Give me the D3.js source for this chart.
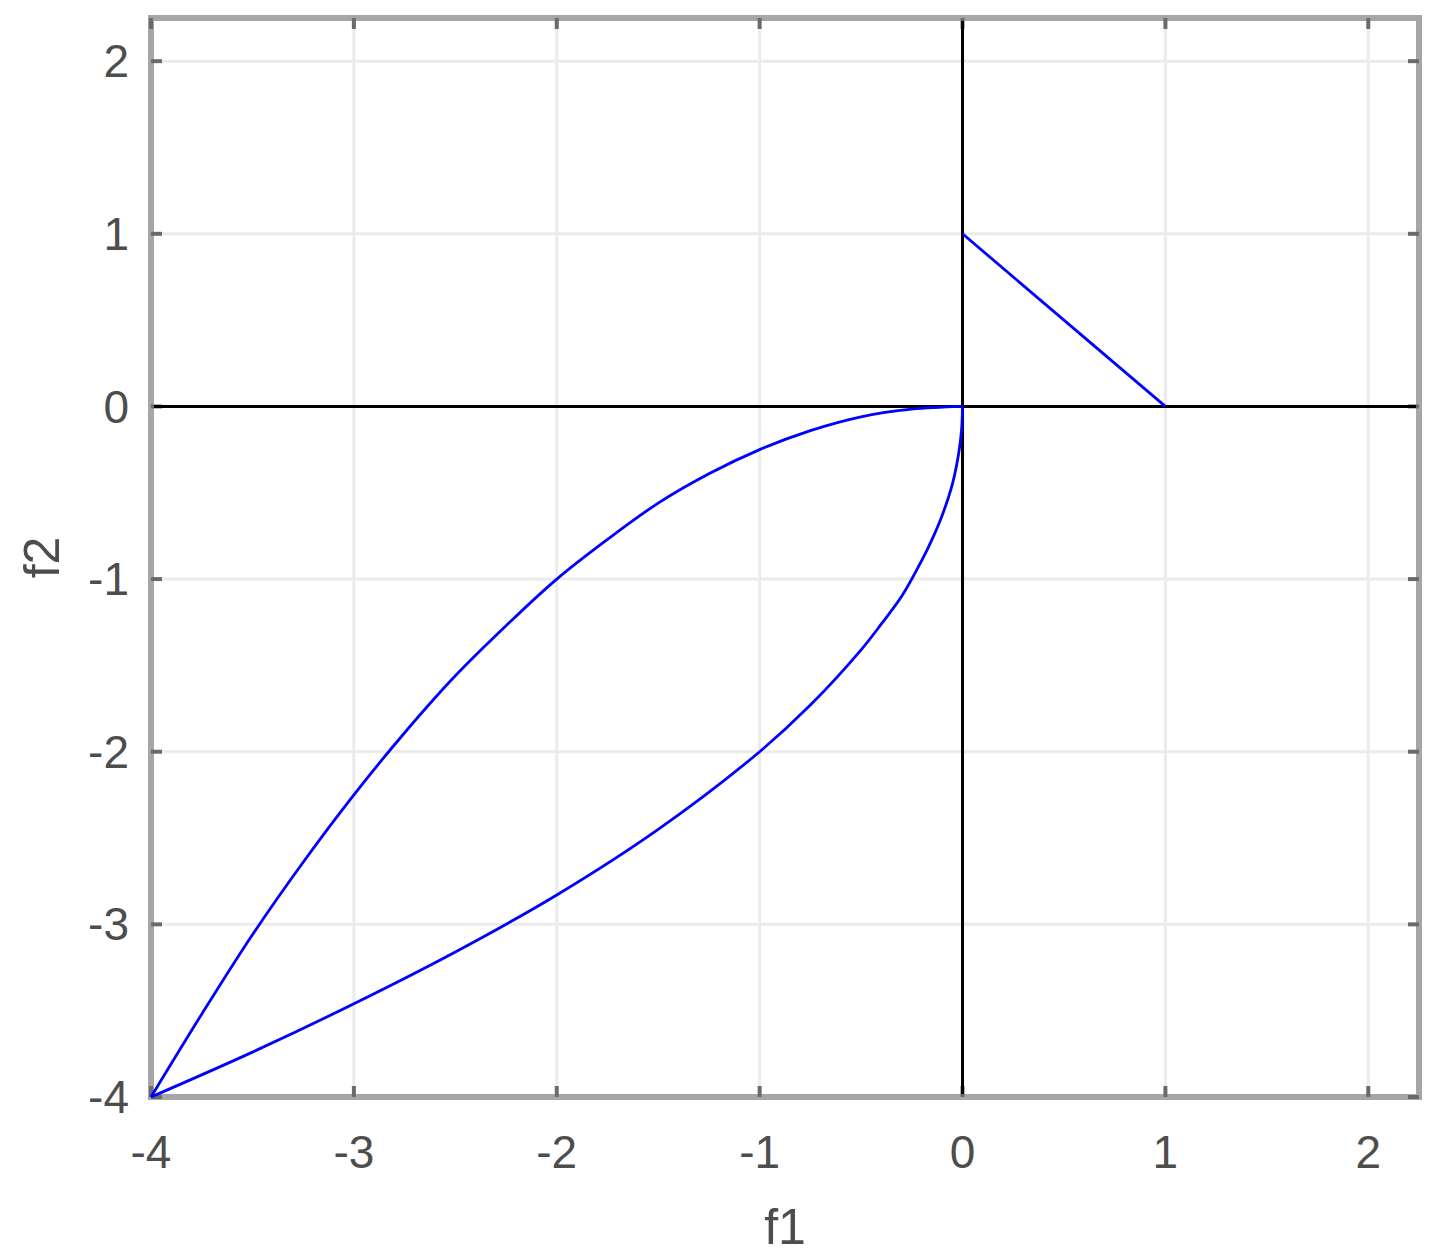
<!DOCTYPE html>
<html>
<head>
<meta charset="utf-8">
<script src="https://cdn.jsdelivr.net/npm/d3@7"></script>
<style>
  body { margin: 0; background: #fff; }
  svg text { font-family: "Liberation Sans", Arial, sans-serif; fill: #4d4d4d; }
</style>
</head>
<body>
<svg id="chart"></svg>
<script>
// Taille du graphique
const width = 1440, height = 1260;

// Données
const xTicks = [-4, -3, -2, -1, 0, 1, 2];
const yTicks = [-4, -3, -2, -1, 0, 1, 2];

// courbe supérieure (de (-4,-4) à (0,0))
const upperF1 = [-4, -3.75, -3.5, -3.25, -3, -2.75, -2.5, -2.25, -2, -1.75, -1.5, -1.25, -1, -0.75, -0.5, -0.25, 0];
const upperF2 = [-4, -3.52, -3.06, -2.64, -2.25, -1.89, -1.56, -1.27, -1, -0.77, -0.56, -0.39, -0.25, -0.14, -0.06, -0.016, 0];

// courbe inférieure
const lowerF1 = [-4, -3.5, -3, -2.5, -2, -1.5, -1, -0.75, -0.5, -0.4, -0.3, -0.2, -0.15, -0.1, -0.05, -0.02, -0.005, 0];
const lowerF2 = [-4, -3.74, -3.46, -3.16, -2.83, -2.45, -2, -1.73, -1.41, -1.26, -1.1, -0.89, -0.77, -0.63, -0.45, -0.28, -0.14, 0];

// segment en haut à droite
const segF1 = [0, 1];
const segF2 = [1, 0];

const svg = d3.select("#chart")
    .attr("width", width)
    .attr("height", height);

// Échelles
const x = d3.scaleLinear().domain([-4, 2.25]).range([151, 1419]);
const y = d3.scaleLinear().domain([-4, 2.25]).range([1097, 18]);

const [x0, x1] = x.range();
const [y0, y1] = y.range();

// Grille
svg.append("g").selectAll("line")
    .data(xTicks)
    .enter().append("line")
    .attr("x1", d => x(d)).attr("x2", d => x(d))
    .attr("y1", y1).attr("y2", y0)
    .attr("stroke", "#ebebeb").attr("stroke-width", 3);

svg.append("g").selectAll("line")
    .data(yTicks)
    .enter().append("line")
    .attr("y1", d => y(d)).attr("y2", d => y(d))
    .attr("x1", x0).attr("x2", x1)
    .attr("stroke", "#ebebeb").attr("stroke-width", 3);

// Courbes
const line = d3.line()
    .x(d => x(d[0]))
    .y(d => y(d[1]))
    .curve(d3.curveCatmullRom);

const series = [
    d3.zip(upperF1, upperF2),
    d3.zip(lowerF1, lowerF2),
    d3.zip(segF1, segF2)
];

// Cadre
svg.append("rect")
    .attr("x", x0).attr("y", y1)
    .attr("width", x1 - x0).attr("height", y0 - y1)
    .attr("fill", "none")
    .attr("stroke", "#a6a6a6")
    .attr("stroke-width", 6);

// Graduations (vers l'intérieur, sur les 4 côtés)
const tickLen = 11;
const tk = svg.append("g").attr("stroke", "#6a6a6a").attr("stroke-width", 4);
xTicks.forEach(d => {
    tk.append("line").attr("x1", x(d)).attr("x2", x(d)).attr("y1", y0).attr("y2", y0 - tickLen);
    tk.append("line").attr("x1", x(d)).attr("x2", x(d)).attr("y1", y1).attr("y2", y1 + tickLen);
});
yTicks.forEach(d => {
    tk.append("line").attr("y1", y(d)).attr("y2", y(d)).attr("x1", x0).attr("x2", x0 + tickLen);
    tk.append("line").attr("y1", y(d)).attr("y2", y(d)).attr("x1", x1).attr("x2", x1 - tickLen);
});

// Axes f1 = 0 et f2 = 0
svg.append("line")
    .attr("x1", x0 + 3).attr("x2", x1 - 3)
    .attr("y1", y(0)).attr("y2", y(0))
    .attr("stroke", "#000").attr("stroke-width", 3);
svg.append("line")
    .attr("x1", x(0)).attr("x2", x(0))
    .attr("y1", y1 + 3).attr("y2", y0 - 3)
    .attr("stroke", "#000").attr("stroke-width", 3);

svg.append("g").selectAll("path")
    .data(series)
    .enter().append("path")
    .attr("d", line)
    .attr("fill", "none")
    .attr("stroke", "#0000ff")
    .attr("stroke-width", 2.8);

// Étiquettes
svg.append("g").selectAll("text")
    .data(xTicks)
    .enter().append("text")
    .attr("x", d => x(d))
    .attr("y", 1168)
    .attr("text-anchor", "middle")
    .attr("font-size", 46)
    .text(d => d);

svg.append("g").selectAll("text")
    .data(yTicks)
    .enter().append("text")
    .attr("x", 129)
    .attr("y", d => y(d))
    .attr("dy", "0.35em")
    .attr("text-anchor", "end")
    .attr("font-size", 46)
    .text(d => d);

// Titres des axes
svg.append("text")
    .attr("x", (x0 + x1) / 2)
    .attr("y", 1244)
    .attr("text-anchor", "middle")
    .attr("font-size", 50)
    .text("f1");

svg.append("text")
    .attr("transform", `translate(59, ${(y0 + y1) / 2}) rotate(-90)`)
    .attr("text-anchor", "middle")
    .attr("font-size", 50)
    .text("f2");
</script>
</body>
</html>
